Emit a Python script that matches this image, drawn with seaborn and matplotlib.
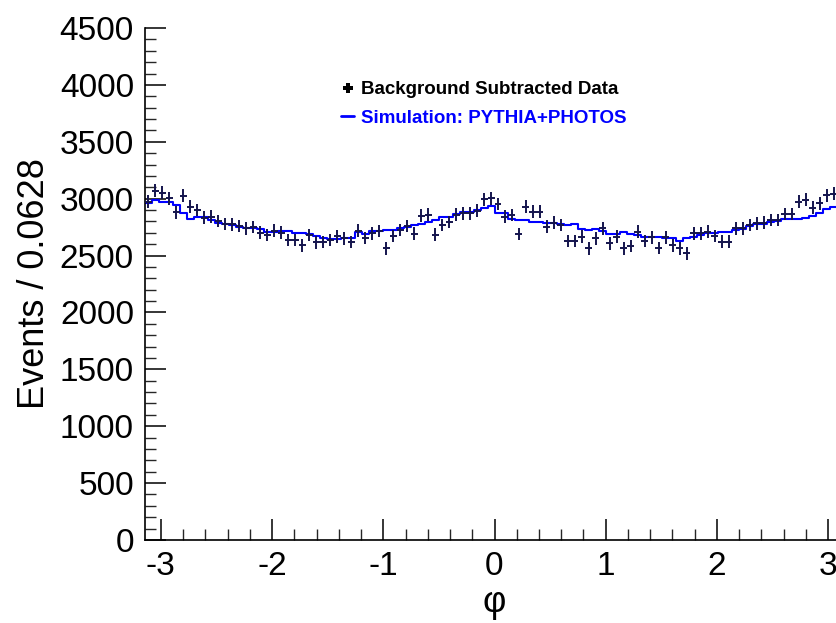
import numpy as np
import pandas as pd
import matplotlib
matplotlib.use("Agg")
import matplotlib.pyplot as plt
import seaborn as sns
from matplotlib.lines import Line2D
from matplotlib.ticker import MultipleLocator

# ---- data ----
n_bins = 100
phi_min, phi_max = -np.pi, np.pi

data_counts = [
    2973, 3070, 3053, 3003, 2880, 3026, 2930, 2900, 2833, 2842,
    2804, 2777, 2775, 2760, 2739, 2752, 2701, 2681, 2719, 2701,
    2637, 2637, 2590, 2681, 2615, 2620, 2635, 2668, 2650, 2618,
    2720, 2653, 2695, 2716, 2563, 2672, 2725, 2760, 2692, 2850,
    2860, 2685, 2769, 2795, 2860, 2871, 2871, 2894, 2994, 3003,
    2953, 2842, 2856, 2689, 2930, 2886, 2886, 2754, 2789, 2769,
    2628, 2628, 2666, 2563, 2652, 2739, 2607, 2666, 2563, 2584,
    2710, 2628, 2660, 2565, 2660, 2590, 2563, 2520, 2695, 2695,
    2710, 2670, 2622, 2622, 2739, 2739, 2769, 2783, 2790, 2812,
    2812, 2865, 2865, 2973, 2991, 2922, 2959, 3028, 3045, 3050,
]

sim_counts = [
    2965, 2988, 2975, 2975, 2940, 2870, 2825, 2835, 2838, 2815,
    2790, 2775, 2770, 2750, 2745, 2745, 2735, 2708, 2705, 2718,
    2718, 2700, 2695, 2688, 2670, 2655, 2645, 2645, 2655, 2652,
    2705, 2690, 2712, 2716, 2728, 2728, 2738, 2750, 2765, 2775,
    2798, 2815, 2835, 2840, 2865, 2886, 2886, 2902, 2915, 2935,
    2875, 2870, 2818, 2810, 2810, 2792, 2795, 2790, 2790, 2775,
    2770, 2775, 2737, 2728, 2737, 2720, 2692, 2692, 2706, 2690,
    2678, 2662, 2660, 2660, 2655, 2655, 2630, 2652, 2666, 2681,
    2695, 2695, 2704, 2704, 2725, 2730, 2760, 2775, 2780, 2798,
    2805, 2818, 2818, 2820, 2833, 2848, 2871, 2906, 2924, 2930,
]

data_err = 55  # typical vertical error bar half-length

y_ticks = [0, 500, 1000, 1500, 2000, 2500, 3000, 3500, 4000, 4500]
x_ticks = [-3, -2, -1, 0, 1, 2, 3]

label_data = "Background Subtracted Data"
label_sim = "Simulation: PYTHIA+PHOTOS"

# ---- style ----
sns.set_theme(style="white")
plt.rcParams["font.family"] = ["Liberation Sans", "DejaVu Sans"]

edges = np.linspace(phi_min, phi_max, n_bins + 1)
centers = 0.5 * (edges[:-1] + edges[1:])
half_w = 0.5 * (edges[1] - edges[0])
df = pd.DataFrame({"phi": centers, "sim": sim_counts, "data": data_counts})

W, H = 836, 623
fig = plt.figure(figsize=(W / 100, H / 100), dpi=100)
ax = fig.add_axes([145 / W, 1 - 540 / H, 699 / W, 512 / H])

sns.histplot(data=df, x="phi", weights="sim", bins=n_bins,
             binrange=(phi_min, phi_max), element="step",
             fill=False, color="#0000ff", linewidth=1.5, ax=ax)
ax.errorbar(df["phi"], df["data"], xerr=half_w, yerr=data_err, fmt="none",
            ecolor="#14144d", elinewidth=1.4, capsize=0, zorder=3)

ax.set_xlim(phi_min, phi_max)
ax.set_ylim(0, 4500)
ax.set_xticks(x_ticks)
ax.set_xticklabels([str(t) for t in x_ticks])
ax.set_yticks(y_ticks)
ax.set_yticklabels([str(t) for t in y_ticks])
ax.xaxis.set_minor_locator(MultipleLocator(0.2))
ax.yaxis.set_minor_locator(MultipleLocator(100))

ax.tick_params(axis="both", which="major", direction="in", length=15,
               width=1.1, labelsize=24, pad=8, colors="black",
               left=True, bottom=True)
ax.tick_params(axis="both", which="minor", direction="in", length=8,
               width=1.0, left=True, bottom=True)

for s in ["top", "right"]:
    ax.spines[s].set_visible(False)
for s in ["left", "bottom"]:
    ax.spines[s].set_color("black")
    ax.spines[s].set_linewidth(1.2)

ax.set_ylabel("Events / 0.0628", fontsize=26, color="black")
ax.yaxis.set_label_coords((52 - 145) / 699, 0.5)
ax.set_xlabel("φ", fontsize=26, color="black")
ax.xaxis.set_label_coords(0.5, (540 - 585) / 512)

handles = [
    Line2D([], [], linestyle="none", marker="P", markersize=7.5,
           color="black", markeredgewidth=0),
    Line2D([], [], color="#0000ff", linewidth=2),
]
leg = ax.legend(handles, [label_data, label_sim], loc="upper left",
                bbox_to_anchor=(341 / W, 1 - 81 / H),
                bbox_transform=fig.transFigure, frameon=False,
                prop={"weight": "bold", "size": 13.5},
                handlelength=0.7, handletextpad=0.35, labelspacing=0.62,
                borderpad=0, borderaxespad=0)
leg.get_texts()[0].set_color("black")
leg.get_texts()[1].set_color("#0000ff")

fig.savefig("out.png", dpi=100)
